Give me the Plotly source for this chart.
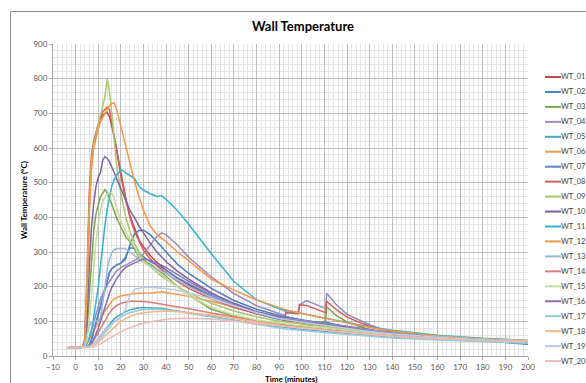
import plotly.graph_objects as go

# ---------------- data ----------------
time_min = [-3.5, 0, 3, 4, 5, 6, 7, 8, 9, 10,
            11, 12, 13, 14, 15, 16, 17, 18, 20, 22,
            24, 26, 28, 30, 33, 36, 38, 40, 45, 50,
            60, 70, 80, 90, 92.5, 93, 98.5, 99, 102, 110.5,
            111, 115, 120, 130, 140, 160, 180, 200]

series_names = ["WT_01", "WT_02", "WT_03", "WT_04", "WT_05", "WT_06", "WT_07",
                "WT_08", "WT_09", "WT_10", "WT_11", "WT_12", "WT_13", "WT_14",
                "WT_15", "WT_16", "WT_17", "WT_18", "WT_19", "WT_20"]

series_colors = ["#BE4B48", "#4A7EBB", "#7FA34A", "#9C88C2", "#46A6BE", "#F59A4F",
                 "#5585C8", "#D25F5C", "#A9C86E", "#7D62A3", "#33B2D4", "#F79646",
                 "#9AB6DC", "#DA7E7C", "#C5DB9C", "#8B6EAF", "#93CDDD", "#FBB784",
                 "#B9CDE5", "#EBBAB9"]

wt_01 = [24, 24, 25, 40, 180, 420, 560, 610, 640, 665,
         685, 695, 700, 702, 690, 665, 635, 600, 530, 460,
         405, 370, 335, 315, 290, 270, 258, 248, 225, 205,
         170, 143, 122, 106, 103, 102, 97, 96, 93, 86,
         86, 82, 78, 70, 63, 54, 47, 41]
wt_02 = [24, 24, 25, 25, 26, 30, 45, 70, 95, 118,
         140, 165, 190, 215, 240, 252, 258, 262, 268, 278,
         320, 352, 362, 363, 350, 330, 315, 300, 265, 238,
         195, 160, 135, 117, 114, 113, 106, 106, 102, 95,
         95, 90, 84, 73, 65, 54, 45, 34]
wt_03 = [24, 24, 25, 30, 70, 170, 280, 360, 410, 440,
         460, 470, 480, 470, 455, 440, 420, 400, 370, 345,
         330, 310, 285, 275, 265, 250, 240, 230, 200, 176,
         135, 115, 102, 92, 90, 90, 86, 86, 85, 100,
         142, 118, 98, 75, 64, 55, 48, 43]
wt_04 = [24, 24, 25, 27, 35, 50, 70, 95, 120, 145,
         165, 180, 195, 205, 215, 225, 235, 245, 255, 262,
         268, 275, 282, 295, 320, 345, 355, 350, 320, 285,
         228, 180, 145, 122, 117, 127, 125, 147, 160, 137,
         181, 150, 120, 90, 67, 55, 48, 42]
wt_05 = [24, 24, 24, 25, 26, 28, 31, 36, 42, 50,
         58, 67, 76, 85, 93, 100, 107, 112, 121, 128,
         133, 137, 139, 140, 140, 138, 137, 135, 130, 125,
         114, 103, 93, 84, 82, 82, 78, 78, 76, 71,
         71, 69, 66, 60, 55, 48, 42, 37]
wt_06 = [24, 24, 25, 30, 38, 48, 60, 72, 85, 98,
         110, 120, 130, 140, 150, 158, 164, 168, 173, 176,
         178, 180, 181, 181, 182, 184, 185, 183, 178, 172,
         158, 142, 125, 112, 109, 109, 103, 103, 100, 93,
         93, 89, 84, 75, 67, 56, 49, 43]
wt_07 = [24, 24, 25, 25, 27, 32, 48, 72, 98, 122,
         145, 170, 195, 220, 242, 252, 258, 262, 268, 285,
         312, 310, 295, 285, 272, 262, 255, 248, 225, 208,
         175, 145, 122, 106, 104, 112, 105, 104, 101, 92,
         97, 90, 84, 73, 65, 54, 46, 38]
wt_08 = [24, 24, 25, 50, 230, 470, 580, 620, 650, 670,
         690, 705, 712, 718, 710, 670, 630, 590, 520, 455,
         400, 360, 330, 305, 280, 260, 250, 240, 215, 195,
         165, 140, 122, 112, 108, 125, 122, 148, 146, 125,
         158, 135, 112, 85, 70, 56, 48, 42]
wt_09 = [24, 24, 25, 45, 200, 430, 560, 610, 640, 665,
         690, 720, 750, 800, 760, 700, 620, 560, 470, 405,
         360, 325, 300, 280, 258, 240, 230, 222, 200, 182,
         152, 130, 113, 100, 98, 98, 93, 93, 90, 84,
         84, 80, 76, 69, 63, 54, 47, 42]
wt_10 = [24, 24, 25, 35, 100, 250, 370, 440, 490, 515,
         530, 565, 575, 570, 560, 545, 530, 515, 480, 450,
         420, 400, 375, 355, 325, 300, 285, 272, 245, 222,
         182, 152, 128, 112, 110, 110, 104, 104, 101, 94,
         94, 90, 85, 75, 67, 56, 48, 42]
wt_11 = [24, 24, 25, 28, 35, 50, 75, 110, 150, 200,
         260, 330, 380, 425, 460, 490, 508, 520, 538, 530,
         520, 512, 490, 478, 468, 460, 462, 452, 420, 380,
         295, 215, 162, 135, 130, 132, 125, 124, 120, 110,
         110, 104, 97, 84, 74, 60, 51, 45]
wt_12 = [24, 24, 25, 40, 170, 400, 540, 600, 630, 655,
         675, 690, 700, 712, 722, 728, 730, 715, 662, 605,
         550, 505, 460, 420, 375, 350, 340, 330, 300, 275,
         222, 190, 162, 138, 134, 133, 125, 124, 120, 108,
         108, 102, 95, 82, 72, 58, 50, 45]
wt_13 = [24, 24, 25, 35, 60, 85, 98, 100, 101, 102,
         110, 150, 200, 250, 280, 298, 306, 310, 311, 310,
         300, 290, 280, 270, 260, 250, 245, 238, 218, 200,
         170, 145, 125, 110, 108, 108, 103, 103, 100, 93,
         93, 89, 84, 74, 66, 55, 48, 42]
wt_14 = [24, 24, 24, 25, 27, 30, 36, 45, 56, 68,
         80, 92, 104, 115, 125, 133, 140, 145, 152, 156,
         158, 158, 158, 157, 155, 152, 150, 148, 142, 136,
         124, 112, 100, 90, 88, 88, 84, 84, 82, 77,
         77, 74, 71, 65, 60, 52, 46, 41]
wt_15 = [24, 24, 25, 27, 45, 100, 180, 260, 330, 380,
         420, 445, 460, 468, 472, 470, 455, 430, 390, 360,
         335, 315, 290, 270, 258, 245, 235, 225, 198, 175,
         140, 118, 104, 94, 92, 92, 88, 88, 86, 80,
         80, 77, 73, 67, 62, 54, 48, 43]
wt_16 = [24, 24, 25, 25, 26, 28, 35, 48, 62, 80,
         100, 122, 145, 165, 182, 198, 210, 222, 240, 255,
         262, 268, 275, 280, 275, 268, 262, 255, 235, 215,
         180, 150, 127, 110, 107, 107, 102, 102, 99, 92,
         92, 88, 83, 73, 65, 54, 47, 41]
wt_17 = [24, 24, 24, 24, 25, 27, 30, 34, 39, 45,
         52, 60, 68, 76, 84, 91, 98, 104, 113, 120,
         125, 129, 132, 134, 135, 135, 134, 133, 129, 124,
         113, 101, 90, 80, 78, 78, 74, 74, 72, 67,
         67, 65, 62, 57, 52, 46, 41, 37]
wt_18 = [24, 24, 24, 24, 25, 26, 28, 31, 35, 40,
         46, 52, 58, 65, 72, 78, 84, 90, 100, 108,
         114, 119, 122, 125, 127, 129, 130, 130, 128, 125,
         118, 108, 98, 88, 86, 86, 82, 82, 80, 74,
         74, 71, 68, 62, 57, 50, 45, 41]
wt_19 = [24, 24, 24, 24, 25, 27, 30, 35, 42, 50,
         58, 66, 74, 82, 88, 93, 97, 100, 110, 135,
         175, 192, 196, 198, 198, 197, 196, 195, 190, 182,
         165, 145, 125, 108, 105, 105, 99, 99, 96, 88,
         88, 85, 80, 71, 64, 54, 47, 41]
wt_20 = [24, 24, 24, 24, 24, 25, 26, 27, 29, 32,
         35, 39, 43, 47, 51, 55, 59, 63, 70, 76,
         82, 87, 91, 95, 99, 102, 104, 106, 108, 109,
         107, 101, 94, 87, 85, 85, 81, 81, 79, 74,
         74, 71, 68, 62, 57, 50, 45, 41]

series_values = [wt_01, wt_02, wt_03, wt_04, wt_05, wt_06, wt_07, wt_08, wt_09, wt_10,
                 wt_11, wt_12, wt_13, wt_14, wt_15, wt_16, wt_17, wt_18, wt_19, wt_20]

# ---------------- layout geometry (pixels) ----------------
W, H = 586, 383
ML, MR, MT, MB = 53, 58, 44, 27
PW, PH = W - ML - MR, H - MT - MB


def px_to_paper_x(px):
    return (px - ML) / PW


def px_to_paper_y(py):
    return (H - MB - py) / PH


FONT = "Lato, 'Open Sans', sans-serif"

fig = go.Figure()
for name, color, vals in zip(series_names, series_colors, series_values):
    fig.add_trace(go.Scatter(
        x=time_min, y=vals, mode="lines", name=name,
        line=dict(color=color, width=1.5),
        showlegend=False,
    ))

# hand-placed legend (Excel-like compact spacing)
shapes = []
annotations = []
leg_y0, leg_step = 77, 14.95
for i, (name, color) in enumerate(zip(series_names, series_colors)):
    py = leg_y0 + i * leg_step
    shapes.append(dict(type="line", xref="paper", yref="paper",
                       x0=px_to_paper_x(545), x1=px_to_paper_x(561),
                       y0=px_to_paper_y(py), y1=px_to_paper_y(py),
                       line=dict(color=color, width=2)))
    annotations.append(dict(xref="paper", yref="paper",
                            x=px_to_paper_x(561), y=px_to_paper_y(py),
                            xanchor="left", yanchor="middle", showarrow=False,
                            borderpad=0, borderwidth=0,
                            text=name, font=dict(family=FONT, size=7.5, color="#404040")))

# x-axis title placed as in the reference (below the tick labels)
annotations.append(dict(xref="paper", yref="paper",
                        x=0.5, y=px_to_paper_y(378.5),
                        xanchor="center", yanchor="middle", showarrow=False,
                        text="<b>Time (minutes)</b>",
                        font=dict(family=FONT, size=8, color="#000000")))

# outer chart-area border
shapes.append(dict(type="rect", xref="paper", yref="paper", layer="below",
                   x0=px_to_paper_x(10.5), x1=px_to_paper_x(600),
                   y0=px_to_paper_y(400), y1=px_to_paper_y(11.5),
                   line=dict(color="#8C8C8C", width=1), fillcolor="rgba(0,0,0,0)"))

fig.update_layout(
    width=W, height=H,
    margin=dict(l=ML, r=MR, t=MT, b=MB, pad=0),
    paper_bgcolor="white", plot_bgcolor="white",
    title=dict(text="<b>Wall Temperature</b>", x=px_to_paper_x(303), xref="paper",
               xanchor="center", y=1 - 26 / H, yanchor="middle",
               font=dict(family=FONT, size=13, color="#000000")),
    shapes=shapes,
    annotations=annotations,
    font=dict(family=FONT),
)

fig.update_xaxes(
    range=[-10, 200], dtick=10, tick0=0,
    showgrid=True, gridcolor="#BEBEBE", gridwidth=1,
    minor=dict(dtick=2, showgrid=True, gridcolor="#E4E4E4", gridwidth=1,
               ticks=""),
    ticks="outside", ticklen=3, tickcolor="#A6A6A6",
    showline=True, linecolor="#A6A6A6", linewidth=1,
    zeroline=False,
    tickfont=dict(family=FONT, size=8, color="#595959"),
)
fig.update_yaxes(
    range=[0, 900], dtick=100,
    showgrid=True, gridcolor="#BEBEBE", gridwidth=1,
    minor=dict(dtick=20, showgrid=True, gridcolor="#E4E4E4", gridwidth=1,
               ticks=""),
    ticks="outside", ticklen=3, tickcolor="#A6A6A6",
    showline=True, linecolor="#A6A6A6", linewidth=1,
    zeroline=False,
    tickfont=dict(family=FONT, size=8, color="#595959"),
    title=dict(text="<b>Wall Temperature (°C)</b>", standoff=4,
               font=dict(family=FONT, size=8, color="#000000")),
)

fig.write_html("out.html")
